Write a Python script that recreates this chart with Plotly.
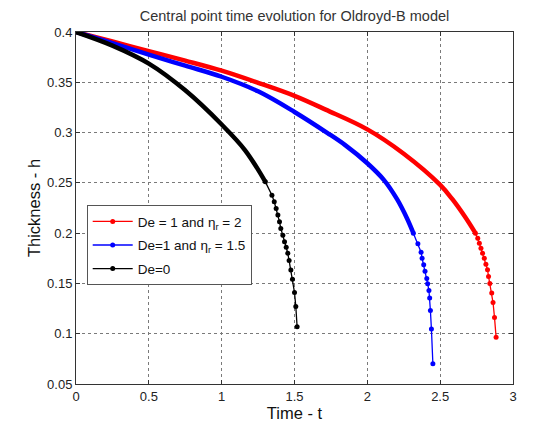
import plotly.graph_objects as go

# (time t, thickness h)
# dense part of each curve (drawn as a thick band) and the sparse tail (visible dots)
t_red_body = [0, 0.25, 0.5, 0.75, 1.0, 1.25, 1.5, 1.714, 2.0, 2.25, 2.5, 2.585, 2.674, 2.742]
h_red_body = [0.4, 0.3905, 0.381, 0.3715, 0.3615, 0.3495, 0.3365, 0.3228, 0.3032, 0.279, 0.248, 0.2335, 0.2155, 0.2]
t_red_tail = [2.742, 2.758, 2.769, 2.780, 2.791, 2.803, 2.814, 2.825, 2.832, 2.841, 2.854, 2.863, 2.873, 2.884]
h_red_tail = [0.2, 0.195, 0.190, 0.185, 0.180, 0.175, 0.169, 0.1636, 0.157, 0.150, 0.1404, 0.131, 0.1162, 0.0965]

t_blue_body = [0, 0.25, 0.5, 0.75, 1.0, 1.25, 1.5, 1.727, 1.848, 2.0, 2.116, 2.205, 2.272, 2.316]
h_blue_body = [0.4, 0.389, 0.3775, 0.3665, 0.3555, 0.341, 0.3205, 0.2995, 0.2875, 0.2695, 0.2525, 0.2335, 0.2148, 0.2]
t_blue_tail = [2.316, 2.347, 2.369, 2.376, 2.387, 2.396, 2.408, 2.414, 2.423, 2.428, 2.433, 2.44, 2.45]
h_blue_tail = [0.2, 0.1894, 0.181, 0.175, 0.1685, 0.162, 0.155, 0.1497, 0.143, 0.1354, 0.123, 0.1046, 0.0702]

t_black_body = [0, 0.25, 0.5, 0.75, 1.0, 1.161, 1.3]
h_black_body = [0.4, 0.3865, 0.3686, 0.342, 0.308, 0.2824, 0.251]
t_black_tail = [1.3, 1.345, 1.361, 1.374, 1.386, 1.397, 1.406, 1.42, 1.4315, 1.443, 1.454, 1.463, 1.475, 1.486, 1.5, 1.509, 1.518]
h_black_tail = [0.251, 0.2378, 0.2312, 0.2246, 0.218, 0.2113, 0.2047, 0.198, 0.1915, 0.186, 0.18, 0.1727, 0.1634, 0.1542, 0.141, 0.1271, 0.107]

series = [
    ("De = 1 and η<sub>r</sub> = 2", "#ff0000", t_red_body, h_red_body, t_red_tail, h_red_tail),
    ("De=1 and η<sub>r</sub> = 1.5", "#0000ff", t_blue_body, h_blue_body, t_blue_tail, h_blue_tail),
    ("De=0", "#000000", t_black_body, h_black_body, t_black_tail, h_black_tail),
]

font_family = "Liberation Sans, Arial, sans-serif"

fig = go.Figure()

for name, color, tb, hb, tt, ht in series:
    # dense markers in the original merge into a thick band
    fig.add_trace(go.Scatter(x=tb, y=hb, mode="lines",
                             line=dict(color=color, width=4.5, shape="spline", smoothing=1.0),
                             legendgroup=name, showlegend=False, hoverinfo="skip"))
    fig.add_trace(go.Scatter(x=tt, y=ht, mode="lines+markers", name=name, legendgroup=name,
                             line=dict(color=color, width=1.3),
                             marker=dict(color=color, size=5, symbol="circle")))

axis_style = dict(
    showline=True, linecolor="#333333", linewidth=1, mirror="ticks",
    ticks="inside", ticklen=4, tickcolor="#333333",
    showgrid=True, gridcolor="#7a7a7a", griddash="dot", gridwidth=1,
    zeroline=False, automargin=False,
    tickfont=dict(size=13, color="#222222", family=font_family),
)

fig.update_xaxes(range=[0, 3], tick0=0, dtick=0.5,
                 title=dict(text="Time - t", font=dict(size=16.5, color="#111111", family=font_family), standoff=2),
                 **axis_style)
fig.update_yaxes(range=[0.05, 0.4], tick0=0.05, dtick=0.05,
                 title=dict(text="Thickness - h", font=dict(size=16.5, color="#111111", family=font_family), standoff=2),
                 **axis_style)

# the page body adds an 8px offset, so margins are shifted to land the plot where the reference has it
fig.update_layout(
    width=534, height=423,
    margin=dict(l=68, r=29, t=24, b=47),
    paper_bgcolor="white", plot_bgcolor="white",
    font=dict(family=font_family, color="#222222"),
    title=dict(text="Central point time evolution for Oldroyd-B model",
               xref="paper", x=0.5, xanchor="center", y=0.981, yanchor="middle",
               font=dict(size=14.5, color="#333333", family=font_family)),
    legend=dict(x=0.0245, y=0.508, xanchor="left", yanchor="top",
                bgcolor="white", bordercolor="#555555", borderwidth=1,
                font=dict(size=13.5, color="#111111", family=font_family),
                itemwidth=40, tracegroupgap=3),
    showlegend=True,
)

fig.write_html("out.html")
